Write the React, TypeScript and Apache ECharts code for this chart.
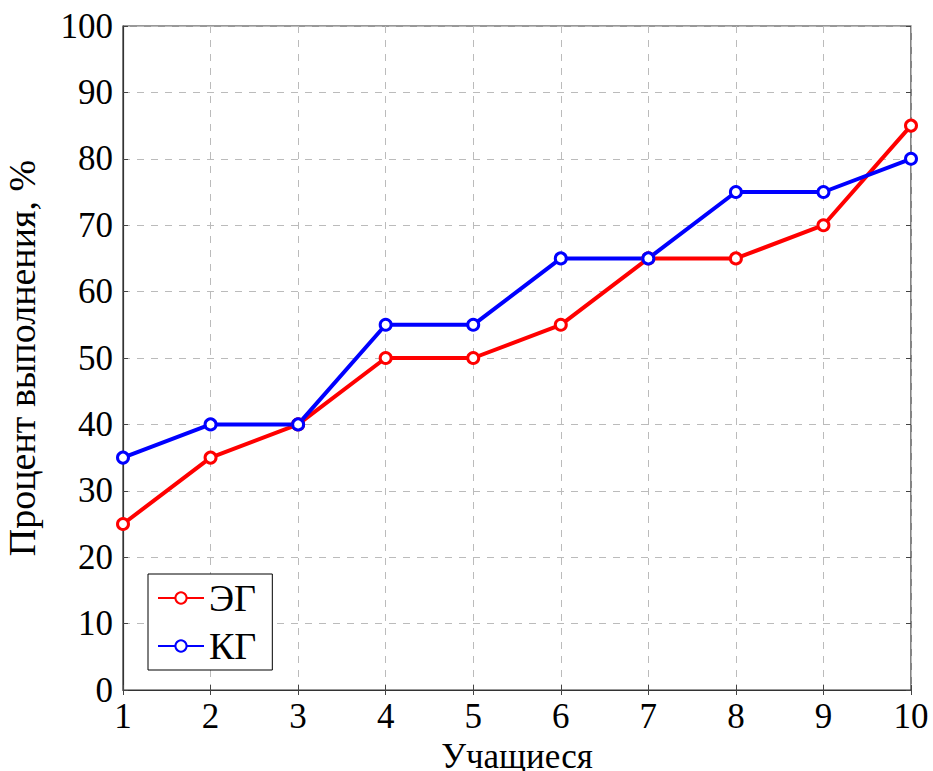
import React, { useEffect, useRef } from "react";
import * as echarts from "echarts";

const students = [1, 2, 3, 4, 5, 6, 7, 8, 9, 10];
const egValues = [25, 35, 40, 50, 50, 55, 65, 65, 70, 85];
const kgValues = [35, 40, 40, 55, 55, 65, 65, 75, 75, 80];
const seriesNames = ["ЭГ", "КГ"];
const xName = "Учащиеся";
const yName = "Процент выполнения, %";

const FONT = "Liberation Serif";

export default function App() {
  const ref = useRef<HTMLDivElement>(null);
  useEffect(() => {
    if (!ref.current) return;
    const chart = echarts.init(ref.current, null, { renderer: "svg" });
    const gridLine = { show: true, lineStyle: { color: "#bbbbbb", type: [7, 7] as any, width: 1 } };
    const hiddenAxisCommon = {
      axisLabel: { show: false },
      splitLine: { show: false },
      axisLine: { show: false },
      axisTick: { show: true, inside: true, length: 5, lineStyle: { color: "#444" } },
    };
    chart.setOption({
      animation: false,
      backgroundColor: "#ffffff",
      grid: {
        left: 123,
        right: 22,
        top: 26,
        bottom: 81,
        containLabel: false,
        outerBoundsMode: "none",
        show: true,
        borderColor: "#333",
        borderWidth: 1.2,
      },
      legend: {
        orient: "vertical",
        left: 148,
        top: 574,
        data: seriesNames,
        backgroundColor: "#fff",
        borderColor: "#000",
        borderWidth: 1,
        borderRadius: 0,
        padding: [5, 16, 5, 9],
        itemWidth: 46,
        itemHeight: 14,
        itemGap: 10,
        textStyle: { fontFamily: FONT, fontSize: 38, color: "#000", lineHeight: 32 },
      },
      xAxis: [
        {
          type: "value",
          min: 1,
          max: 10,
          interval: 1,
          name: xName,
          nameLocation: "middle",
          nameGap: 32,
          nameTextStyle: { fontFamily: FONT, fontSize: 35, lineHeight: 35, color: "#000" },
          axisLabel: { fontFamily: FONT, fontSize: 35, color: "#000", margin: 9 },
          axisLine: { show: true, lineStyle: { color: "#333", width: 1.2 } },
          axisTick: { show: true, inside: true, length: 5, lineStyle: { color: "#444" } },
          splitLine: gridLine,
        },
        { type: "value", min: 1, max: 10, interval: 1, position: "top", ...hiddenAxisCommon },
      ],
      yAxis: [
        {
          type: "value",
          min: 0,
          max: 100,
          interval: 10,
          name: yName,
          nameLocation: "middle",
          nameGap: 82,
          nameTextStyle: { fontFamily: FONT, fontSize: 38, color: "#000" },
          axisLabel: { fontFamily: FONT, fontSize: 35, color: "#000", margin: 10 },
          axisLine: { show: true, lineStyle: { color: "#333", width: 1.2 } },
          axisTick: { show: true, inside: true, length: 5, lineStyle: { color: "#444" } },
          splitLine: gridLine,
        },
        { type: "value", min: 0, max: 100, interval: 10, position: "right", ...hiddenAxisCommon },
      ],
      series: [
        {
          name: seriesNames[0],
          type: "line",
          data: students.map((s, i) => [s, egValues[i]]),
          color: "#ff0000",
          lineStyle: { width: 4, color: "#ff0000" },
          symbol: "circle",
          symbolSize: 11,
          itemStyle: { color: "#ffffff", borderColor: "#ff0000", borderWidth: 3 },
        },
        {
          name: seriesNames[1],
          type: "line",
          data: students.map((s, i) => [s, kgValues[i]]),
          color: "#0000ff",
          lineStyle: { width: 4, color: "#0000ff" },
          symbol: "circle",
          symbolSize: 11,
          itemStyle: { color: "#ffffff", borderColor: "#0000ff", borderWidth: 3 },
        },
      ],
    });
    return () => chart.dispose();
  }, []);
  return <div ref={ref} style={{ position: "fixed", left: 0, top: 0, width: 933, height: 771 }} />;
}
